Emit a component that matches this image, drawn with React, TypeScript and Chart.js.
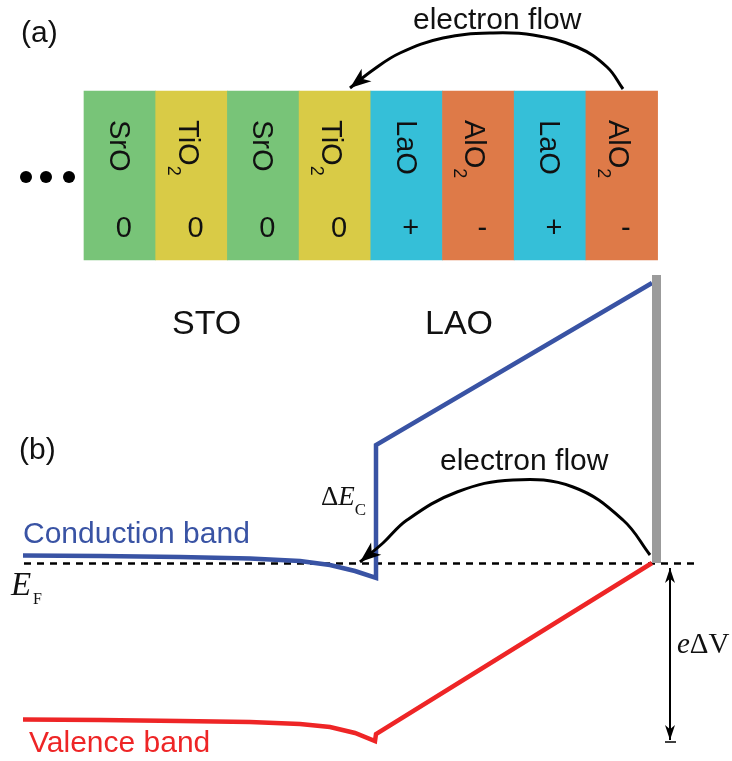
import { useEffect, useRef } from "react";
import { Chart, registerables } from "chart.js";

Chart.register(...registerables);

const W = 732;
const H = 761;
const SANS = '"Liberation Sans", Arial, sans-serif';
const SERIF = '"Liberation Serif", "Times New Roman", serif';

// ---------- Panel (a): layer stack ----------
const layerNames = ["SrO", "TiO", "SrO", "TiO", "LaO", "AlO", "LaO", "AlO"];
const layerSubscripts = ["", "2", "", "2", "", "2", "", "2"];
const layerCharges = ["0", "0", "0", "0", "+", "-", "+", "-"];
const layerColors = ["#78C478", "#D9CB46", "#78C478", "#D9CB46", "#35BFD8", "#DE7A48", "#35BFD8", "#DE7A48"];
const layerIndex = [0, 1, 2, 3, 4, 5, 6, 7];
const layerTop = 91;
const layerBottom = 260;

// "..." dots before the stack
const dotsX = [26, 46, 69];
const dotsY = [177, 177, 177];

// electron flow arrow in panel (a)
const topFlowX = [623, 607, 577, 533, 493, 443, 400, 373, 350];
const topFlowY = [89, 67, 47, 35, 33, 38, 53, 70, 88];

// ---------- Panel (b): band diagram ----------
const cbX = [23, 100, 180, 250, 300, 330, 355, 376, 376, 652];
const cbY = [555.5, 556, 557, 558.5, 561, 565, 571, 578, 445, 283];
const vbX = [23, 100, 180, 250, 300, 330, 355, 375, 376, 652];
const vbY = [719.5, 720, 721, 722, 724, 727, 733, 741, 734, 563];
const fermiX = [24, 697];
const fermiY = [563.5, 563.5];
const surfaceX = [656.5, 656.5];
const surfaceY = [275, 563];
const bottomFlowX = [650, 623, 573, 513, 457, 407, 383, 360];
const bottomFlowY = [555, 520, 487, 480, 492, 520, 543, 562];
const potentialX = [670, 670];
const potentialY = [568, 740];
const potentialTickX = [665, 676];
const potentialTickY = [742, 742];

// layout of the stack (positions)
const STACK_LEFT = 84;
const LAYER_W = 71.7;
const layerCenter = (i: number) => STACK_LEFT + LAYER_W * (i + 0.5);

const pts = (xs: number[], ys: number[]) => xs.map((v, i) => ({ x: v, y: ys[i] }));

function arrowHead(ctx: CanvasRenderingContext2D, tx: number, ty: number, fx: number, fy: number, len: number, half: number) {
  const a = Math.atan2(ty - fy, tx - fx);
  const c = Math.cos(a);
  const s = Math.sin(a);
  const bx = tx - len * c;
  const by = ty - len * s;
  ctx.beginPath();
  ctx.moveTo(tx, ty);
  ctx.lineTo(bx - half * s, by + half * c);
  ctx.lineTo(tx - len * 0.72 * c, ty - len * 0.72 * s);
  ctx.lineTo(bx + half * s, by - half * c);
  ctx.closePath();
  ctx.fill();
}

const overlay = {
  id: "overlay",
  afterDatasetsDraw(chart: any) {
    const ctx: CanvasRenderingContext2D = chart.ctx;
    const xs = chart.scales.x;
    const ys = chart.scales.y;
    const px = (v: number) => xs.getPixelForValue(v);
    const py = (v: number) => ys.getPixelForValue(v);
    ctx.save();
    ctx.fillStyle = "#111";
    ctx.textAlign = "left";
    ctx.textBaseline = "alphabetic";

    // layer labels (rotated) and charges
    layerIndex.forEach((i) => {
      const c = layerCenter(i);
      const sub = layerSubscripts[i];
      ctx.save();
      ctx.translate(px(c - (sub ? 13 : 10)), py(120));
      ctx.rotate(Math.PI / 2);
      ctx.font = `29px ${SANS}`;
      ctx.fillText(layerNames[i], 0, 0);
      if (sub) {
        const w = ctx.measureText(layerNames[i]).width;
        ctx.font = `18px ${SANS}`;
        ctx.fillText(sub, w, 11);
      }
      ctx.restore();
      ctx.font = `29px ${SANS}`;
      ctx.textAlign = "center";
      ctx.fillText(layerCharges[i], px(c + 4), py(237));
      ctx.textAlign = "left";
    });

    // sans texts
    ctx.font = `30px ${SANS}`;
    ctx.fillText("(a)", px(21), py(42));
    ctx.fillText("(b)", px(19), py(459));
    ctx.fillText("electron flow", px(413), py(29));
    ctx.fillText("electron flow", px(440), py(470));
    ctx.font = `34px ${SANS}`;
    ctx.fillText("STO", px(172), py(334));
    ctx.fillText("LAO", px(425), py(334));
    ctx.font = `30px ${SANS}`;
    ctx.fillStyle = "#3953A4";
    ctx.fillText("Conduction band", px(23), py(543));
    ctx.fillStyle = "#EE2526";
    ctx.fillText("Valence band", px(29), py(752));

    // serif math labels
    ctx.fillStyle = "#111";
    // ΔE_C
    ctx.font = `27px ${SERIF}`;
    ctx.fillText("\u0394", px(321), py(505));
    let w = ctx.measureText("\u0394").width;
    ctx.font = `italic 27px ${SERIF}`;
    ctx.fillText("E", px(321) + w, py(505));
    w += ctx.measureText("E").width;
    ctx.font = `17px ${SERIF}`;
    ctx.fillText("C", px(321) + w, py(515));
    // E_F
    ctx.font = `italic 33px ${SERIF}`;
    ctx.fillText("E", px(11), py(595));
    ctx.font = `16px ${SERIF}`;
    ctx.fillText("F", px(33), py(604));
    // eΔV
    ctx.font = `italic 29px ${SERIF}`;
    ctx.fillText("e", px(677), py(653));
    const we = ctx.measureText("e").width;
    ctx.font = `29px ${SERIF}`;
    ctx.fillText("\u0394V", px(677) + we, py(653));

    // arrow heads
    ctx.fillStyle = "#000";
    const n1 = topFlowX.length - 1;
    arrowHead(ctx, px(topFlowX[n1]), py(topFlowY[n1]), px(topFlowX[n1 - 1]), py(topFlowY[n1 - 1]), 21, 8);
    const n2 = bottomFlowX.length - 1;
    arrowHead(ctx, px(bottomFlowX[n2]), py(bottomFlowY[n2]), px(bottomFlowX[n2 - 1]), py(bottomFlowY[n2 - 1]), 21, 8);
    arrowHead(ctx, px(potentialX[0]), py(potentialY[0]), px(potentialX[1]), py(potentialY[1]), 15, 5);
    arrowHead(ctx, px(potentialX[1]), py(potentialY[1]), px(potentialX[0]), py(potentialY[0]), 15, 5);
    ctx.restore();
  },
};

export default function App() {
  const ref = useRef<HTMLCanvasElement>(null);
  useEffect(() => {
    if (!ref.current) return;
    const line = (data: any[], color: string, width: number, extra: any = {}) => ({
      type: "line",
      data,
      borderColor: color,
      backgroundColor: color,
      borderWidth: width,
      pointRadius: 0,
      fill: false,
      tension: 0,
      borderCapStyle: "butt",
      borderJoinStyle: "miter",
      order: 1,
      clip: false,
      ...extra,
    });
    const chart = new Chart(ref.current, {
      type: "bar",
      data: {
        datasets: [
          {
            type: "bar",
            data: layerIndex.map((i) => ({ x: layerCenter(i), y: [layerTop, layerBottom] })),
            backgroundColor: layerColors,
            borderWidth: 0,
            barThickness: LAYER_W,
            order: 10,
          } as any,
          line(pts(dotsX, dotsY), "#000", 0, { showLine: false, pointRadius: 6, pointBackgroundColor: "#000", pointBorderWidth: 0 }),
          line(pts(fermiX, fermiY), "#000", 2.5, { borderDash: [7, 6], order: 3 }),
          line(pts(cbX, cbY), "#3953A4", 4.5, { order: 2 }),
          line(pts(vbX, vbY), "#EE2526", 4.5, { order: 2 }),
          line(pts(surfaceX, surfaceY), "#9B9B9B", 9, { order: 1 }),
          line(pts(topFlowX, topFlowY), "#000", 3, { tension: 0.4 }),
          line(pts(bottomFlowX, bottomFlowY), "#000", 3, { tension: 0.4 }),
          line(pts(potentialX, potentialY), "#000", 2),
          line(pts(potentialTickX, potentialTickY), "#000", 1.5),
        ] as any,
      },
      options: {
        animation: false,
        responsive: false,
        maintainAspectRatio: false,
        devicePixelRatio: 1,
        layout: { padding: 0, autoPadding: false },
        events: [],
        plugins: { legend: { display: false }, tooltip: { enabled: false } },
        scales: {
          x: { type: "linear", min: 0, max: W, display: false, offset: false },
          y: { type: "linear", min: 0, max: H, reverse: true, display: false },
        },
      } as any,
      plugins: [overlay],
    });
    return () => chart.destroy();
  }, []);
  return (
    <div style={{ position: "absolute", left: 0, top: 0, width: W, height: H, background: "#fff" }}>
      <canvas ref={ref} width={W} height={H} style={{ display: "block", width: W, height: H }} />
    </div>
  );
}
